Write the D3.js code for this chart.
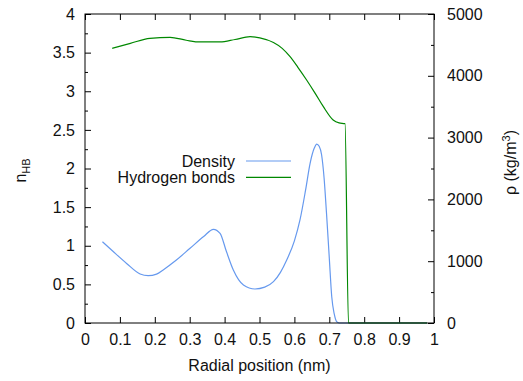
<!DOCTYPE html>
<html>
<head>
<meta charset="utf-8">
<script src="https://cdn.jsdelivr.net/npm/d3@7"></script>
<style>
  body { margin: 0; background: #fff; }
  text { font-family: "Liberation Sans", Arial, sans-serif; }
</style>
</head>
<body>
<script>
// radial position (nm) and density (kg/m^3), right axis
const densityX = [0.05, 0.08, 0.12, 0.158, 0.181, 0.205, 0.224, 0.26, 0.301, 0.34, 0.368, 0.387, 0.405, 0.425, 0.454, 0.487, 0.515, 0.54, 0.56, 0.578, 0.6, 0.616, 0.632, 0.645, 0.657, 0.664, 0.671, 0.678, 0.685, 0.692, 0.7, 0.707, 0.714, 0.721, 0.728, 0.75, 0.98];
const densityY = [1315, 1160, 960, 793, 765, 790, 858, 1010, 1209, 1400, 1516, 1451, 1160, 858, 615, 550, 580, 669, 820, 1020, 1330, 1667, 2150, 2584, 2830, 2896, 2860, 2718, 2350, 1775, 1050, 425, 150, 21, 0, 0, 0];
// hydrogen bonds per molecule, left axis
const hbondX = [0.078, 0.13, 0.186, 0.244, 0.29, 0.33, 0.387, 0.43, 0.473, 0.501, 0.54, 0.565, 0.587, 0.61, 0.635, 0.66, 0.683, 0.711, 0.728, 0.745, 0.755, 0.98];
const hbondY = [3.556, 3.62, 3.685, 3.698, 3.66, 3.638, 3.638, 3.67, 3.706, 3.69, 3.63, 3.555, 3.45, 3.31, 3.146, 2.97, 2.80, 2.628, 2.59, 2.58, 0, 0];
const xTicks = d3.range(0, 1.0001, 0.1);
const leftTicks = [0, 0.5, 1, 1.5, 2, 2.5, 3, 3.5, 4];
const rightTicks = [0, 1000, 2000, 3000, 4000, 5000];

const width = 523, height = 381;
const m = { left: 85, right: 89, top: 14, bottom: 58 };
const pw = width - m.left - m.right, ph = height - m.top - m.bottom;

const svg = d3.select('body').append('svg').attr('width', width).attr('height', height);
const g = svg.append('g').attr('transform', `translate(${m.left},${m.top})`);

const x = d3.scaleLinear().domain([0, 1]).range([0, pw]);
const yL = d3.scaleLinear().domain([0, 4]).range([ph, 0]);
const yR = d3.scaleLinear().domain([0, 5000]).range([ph, 0]);

const fs = 16;
function style(sel) {
  sel.select('.domain').remove();
  sel.selectAll('line').attr('stroke', '#000');
  sel.selectAll('text').attr('font-size', fs).attr('fill', '#111');
}

// minor ticks
g.append('g')
  .call(d3.axisLeft(yL).tickValues(d3.range(0.25, 4, 0.5)).tickSize(-3).tickFormat(''))
  .call(style);
g.append('g').attr('transform', `translate(${pw},0)`)
  .call(d3.axisRight(yR).tickValues(d3.range(500, 5000, 1000)).tickSize(-3).tickFormat(''))
  .call(style);

// major ticks
g.append('g').attr('transform', `translate(0,${ph})`)
  .call(d3.axisBottom(x).tickValues(xTicks).tickSize(-6).tickPadding(11).tickFormat(d => d3.format('.1~f')(d)))
  .call(style);
g.append('g')
  .call(d3.axisTop(x).tickValues(xTicks).tickSize(-6).tickFormat(''))
  .call(style);
g.append('g')
  .call(d3.axisLeft(yL).tickValues(leftTicks).tickSize(-6).tickPadding(10).tickFormat(d3.format('~g')))
  .call(style);
g.append('g').attr('transform', `translate(${pw},0)`)
  .call(d3.axisRight(yR).tickValues(rightTicks).tickSize(-6).tickPadding(13).tickFormat(d3.format('d')))
  .call(style);

// lines
const dens = densityX.map((d, i) => [d, densityY[i]]);
const hb = hbondX.map((d, i) => [d, hbondY[i]]);
g.append('path').datum(dens)
  .attr('fill', 'none').attr('stroke', '#6699ee').attr('stroke-width', 1.2)
  .attr('d', d3.line().x(d => x(d[0])).y(d => yR(d[1])).curve(d3.curveMonotoneX));
g.append('path').datum(hb)
  .attr('fill', 'none').attr('stroke', '#008800').attr('stroke-width', 1.2)
  .attr('d', d3.line().x(d => x(d[0])).y(d => yL(d[1])).curve(d3.curveMonotoneX));

// frame
g.append('rect').attr('width', pw).attr('height', ph)
  .attr('fill', 'none').attr('stroke', '#000').attr('stroke-width', 1);

// legend
const legend = [{ name: 'Density', color: '#6699ee' }, { name: 'Hydrogen bonds', color: '#008800' }];
const lg = svg.append('g').attr('transform', 'translate(235,161)');
legend.forEach((d, i) => {
  lg.append('text').attr('x', 0).attr('y', i * 16.3).attr('dy', '0.35em')
    .attr('text-anchor', 'end').attr('font-size', fs).attr('fill', '#111').text(d.name);
  lg.append('line').attr('x1', 11).attr('x2', 56).attr('y1', i * 16.3).attr('y2', i * 16.3)
    .attr('stroke', d.color).attr('stroke-width', 1.2);
});

// axis titles
svg.append('text').attr('x', m.left + pw / 2).attr('y', 371).attr('text-anchor', 'middle')
  .attr('font-size', fs).attr('fill', '#111').text('Radial position (nm)');

const tl = svg.append('text').attr('transform', `translate(26,${m.top + ph / 2 + 2}) rotate(-90)`)
  .attr('text-anchor', 'middle').attr('font-size', fs).attr('fill', '#111');
tl.append('tspan').text('n');
tl.append('tspan').attr('font-size', 11).attr('dy', 4).text('HB');

const tr = svg.append('text').attr('transform', `translate(516,${m.top + ph / 2 - 6}) rotate(-90)`)
  .attr('text-anchor', 'middle').attr('font-size', fs).attr('fill', '#111');
tr.append('tspan').text('ρ (kg/m');
tr.append('tspan').attr('font-size', 11).attr('dy', -6).text('3');
tr.append('tspan').attr('dy', 6).text(')');
</script>
</body>
</html>
